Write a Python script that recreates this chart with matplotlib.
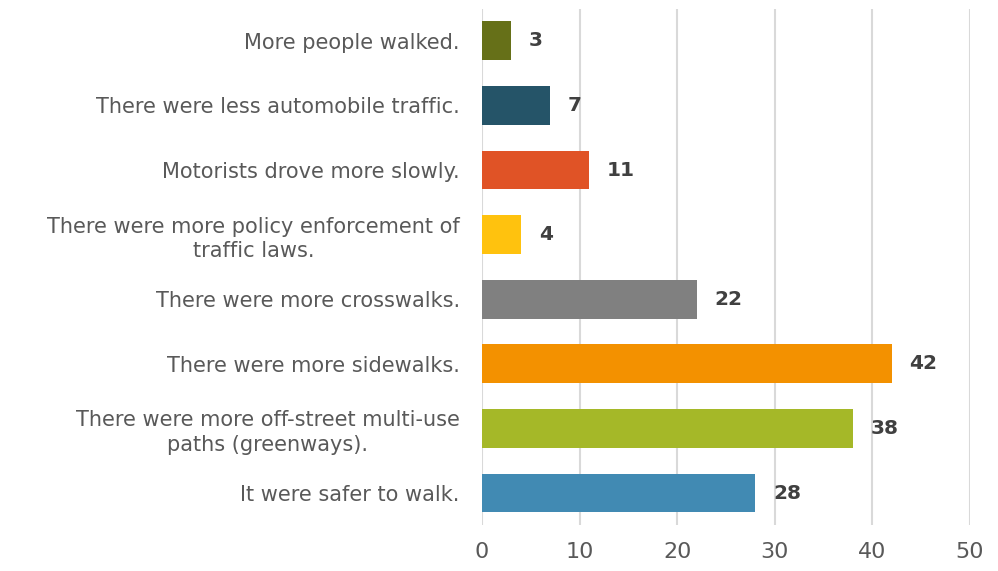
import matplotlib.pyplot as plt

labels = [
    "More people walked.",
    "There were less automobile traffic.",
    "Motorists drove more slowly.",
    "There were more policy enforcement of\ntraffic laws.",
    "There were more crosswalks.",
    "There were more sidewalks.",
    "There were more off-street multi-use\npaths (greenways).",
    "It were safer to walk.",
]
values = [3, 7, 11, 4, 22, 42, 38, 28]
colors = ["#667018", "#255468", "#E05326", "#FFC20E",
          "#808080", "#F39100", "#A5B828", "#418AB3"]

plt.rcParams['font.family'] = ['DejaVu Sans']

fig = plt.figure(figsize=(9.98, 5.71), dpi=100)
ax = fig.add_axes([0.483, 0.08, 0.489, 0.905])

y = list(range(len(values)))
ax.barh(y, values, height=0.6, color=colors, zorder=2)
for yi, v in zip(y, values):
    ax.text(v + 1.8, yi, str(v), va='center', ha='left',
            fontsize=14.5, fontweight='bold', color='#404040')

ax.set_ylim(7.5, -0.5)
ax.set_xlim(0, 50)
ax.set_xticks(range(0, 51, 10))
ax.set_yticks(y)
ax.set_yticklabels(labels, multialignment='center', linespacing=1.3)
ax.tick_params(axis='y', length=0, pad=16, labelsize=15, labelcolor='#595959')
ax.tick_params(axis='x', length=0, pad=12, labelsize=16, labelcolor='#595959')
ax.grid(axis='x', color='#D9D9D9', linewidth=1.5, zorder=0)
for s in ax.spines.values():
    s.set_visible(False)

fig.savefig("out.png", dpi=100)
